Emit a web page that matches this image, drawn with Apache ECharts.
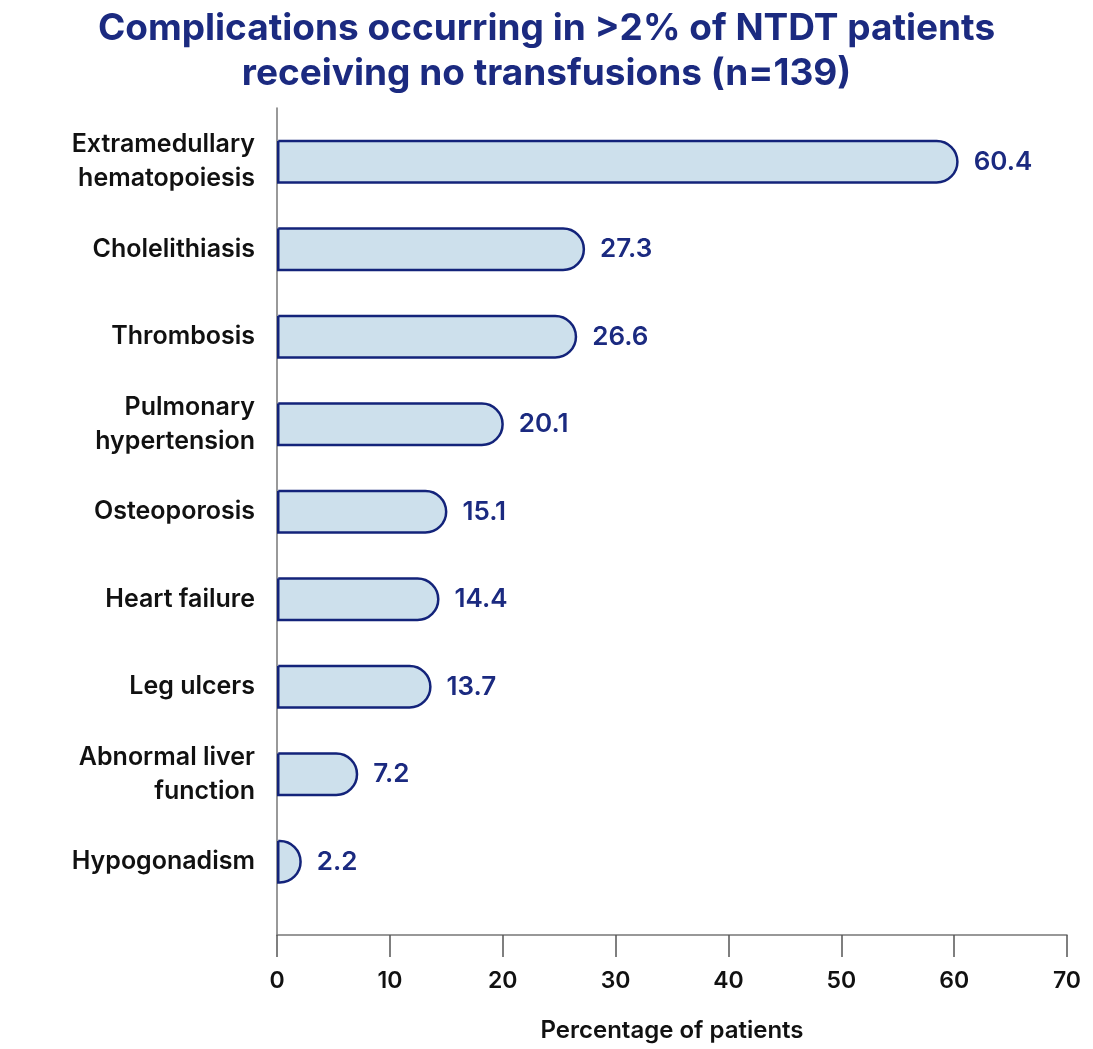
<!DOCTYPE html>
<html>
<head>
<meta charset="utf-8">
<title>Complications in NTDT patients</title>
<script src="https://cdn.jsdelivr.net/npm/echarts@6/dist/echarts.min.js"></script>
<style>
  html, body { margin: 0; padding: 0; background: #fff; }
  #main { width: 1093px; height: 1049px; }
</style>
</head>
<body>
<div id="main"></div>
<script>
// 数据
const categories = [
  'Extramedullary\nhematopoiesis',
  'Cholelithiasis',
  'Thrombosis',
  'Pulmonary\nhypertension',
  'Osteoporosis',
  'Heart failure',
  'Leg ulcers',
  'Abnormal liver\nfunction',
  'Hypogonadism'
]
const percentages = [60.4, 27.3, 26.6, 20.1, 15.1, 14.4, 13.7, 7.2, 2.2]
const xTicks = { min: 0, max: 70, interval: 10 }

const navy = '#1b2a80'
const font = 'Inter, "Noto Sans", sans-serif'

let myChart = echarts.init(document.getElementById('main'))
const option = {
  backgroundColor: '#fff',
  animation: false,
  title: {
    text: 'Complications occurring in >2% of NTDT patients\nreceiving no transfusions (n=139)',
    left: 'center',
    top: 1,
    textStyle: {
      fontFamily: font,
      fontSize: 37,
      fontWeight: 'bold',
      lineHeight: 45,
      color: navy,
    },
  },
  grid: [
    // 柱子所在的网格
    { left: 277, right: 26, top: 118, bottom: 143.5 },
    // 坐标轴线所在的网格
    { left: 277, right: 26, top: 108, bottom: 114 },
  ],
  xAxis: [
    {
      gridIndex: 0,
      type: 'value',
      min: xTicks.min,
      max: xTicks.max,
      interval: xTicks.interval,
      show: false,
    },
    {
      gridIndex: 1,
      type: 'value',
      min: xTicks.min,
      max: xTicks.max,
      interval: xTicks.interval,
      name: 'Percentage of patients',
      nameLocation: 'middle',
      nameGap: 84,
      nameTextStyle: {
        fontFamily: font,
        fontSize: 24,
        fontWeight: 600,
        color: '#111',
      },
      axisLine: { show: true, lineStyle: { color: '#777', width: 1.5 } },
      axisTick: { show: true, length: 22, lineStyle: { color: '#555', width: 1.5 } },
      axisLabel: {
        margin: 35,
        fontFamily: font,
        fontSize: 23,
        fontWeight: 600,
        color: '#111',
      },
      splitLine: { show: false },
    },
  ],
  yAxis: [
    {
      gridIndex: 0,
      type: 'category',
      inverse: true,
      data: categories,
      axisLine: { show: false },
      axisTick: { show: false },
      axisLabel: {
        margin: 22,
        fontFamily: font,
        fontSize: 25,
        fontWeight: 600,
        lineHeight: 34,
        color: '#111',
        align: 'right',
      },
    },
    {
      gridIndex: 1,
      type: 'value',
      axisLine: { show: true, lineStyle: { color: '#777', width: 1.5 } },
      axisTick: { show: false },
      axisLabel: { show: false },
      splitLine: { show: false },
    },
  ],
  series: [
    {
      type: 'bar',
      xAxisIndex: 0,
      yAxisIndex: 0,
      data: percentages,
      barWidth: 44,
      itemStyle: {
        color: '#cde0ec',
        borderColor: '#13237a',
        borderWidth: 2.5,
        borderRadius: [0, 22, 22, 0],
      },
      label: {
        show: true,
        position: 'right',
        distance: 15,
        fontFamily: font,
        fontSize: 26,
        fontWeight: 600,
        color: navy,
      },
    },
  ],
}
myChart.setOption(option)
</script>
</body>
</html>
